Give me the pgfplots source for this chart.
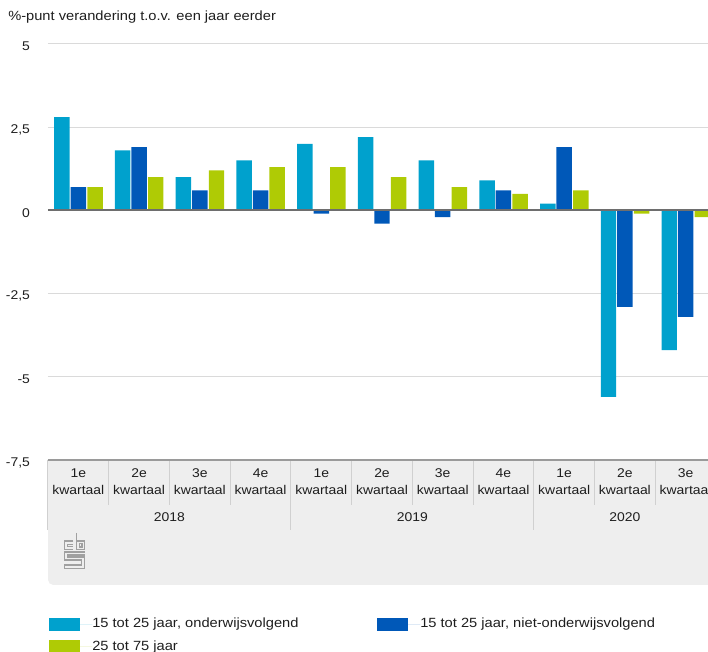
\documentclass[border=0pt]{standalone}
\usepackage{fontspec}
\setmainfont{Liberation Sans}[FakeStretch=1.1]
\usepackage{pgfplots}
\pgfplotsset{compat=1.18}
\definecolor{cLight}{HTML}{00A1CD}
\definecolor{cDark}{HTML}{0058B8}
\definecolor{cGreen}{HTML}{AFCB05}
\definecolor{gridc}{HTML}{DADADA}
\definecolor{zeroc}{HTML}{6E6E6E}
\definecolor{basec}{HTML}{9A9A9A}
\definecolor{boxc}{HTML}{EEEEEE}
\definecolor{sepc}{HTML}{D0D0D0}
\definecolor{logoc}{HTML}{A0A0A0}
\definecolor{txt}{HTML}{1E1E1E}
\pgfplotsset{mylegend/.style={legend image code/.code={%
  \fill[##1,/tikz/.cd] (0pt,-4.75pt) rectangle (23.25pt,5pt);
  \path (0pt,0pt) -- (32.25pt,0pt);}}}
\begin{document}
\begin{tikzpicture}
\begin{scope}[x=0.75pt,y=-0.75pt,shift={(-36pt,345pt)}]
  \fill[boxc,rounded corners=4pt] (48,460) rectangle (730,585);
  \fill[boxc] (48,460) rectangle (730,500);
  \node[anchor=base west,inner sep=0pt,text=txt,font=\fontsize{10}{12}\selectfont] at (8,21) {\%-punt verandering t.o.v. een jaar eerder};
  % cbs logo
  \begin{scope}[logoc,line width=0.9pt]
    \draw (73,541) -- (64.5,541) -- (64.5,549.5) -- (73,549.5);
    \draw (73,544.5) -- (67.5,544.5) -- (67.5,546.5) -- (73,546.5);
    \draw (76.5,533) -- (76.5,549.5) -- (84.5,549.5) -- (84.5,541) -- (76.5,541);
    \draw (79.5,543.5) rectangle (82,547);
    \draw (84.5,552) -- (64.5,552) -- (64.5,560) -- (81.5,560) -- (81.5,565) -- (64.5,565) -- (64.5,568.5) -- (84.5,568.5) -- (84.5,557) -- (67.5,557) -- (67.5,555) -- (84.5,555);
  \end{scope}
\end{scope}
\begin{axis}[
  at={(0pt,0pt)}, anchor=south west,
  scale only axis, width=501pt, height=312pt,
  xmin=-0.5, xmax=10.5, ymin=-7.5, ymax=5,
  clip=false,
  axis line style={draw=none},
  major tick length=0pt,
  ytick={-7.5,-5,-2.5,0,2.5,5},
  yticklabels={{-7,5},{-5},{-2,5},{0},{2,5},{5}},
  yticklabel style={font=\fontsize{9.5}{11}\selectfont, text=txt, anchor=east, xshift=-10pt, yshift=-2pt},
  xtick={0,...,10},
  xticklabels={{1e\\kwartaal},{2e\\kwartaal},{3e\\kwartaal},{4e\\kwartaal},{1e\\kwartaal},{2e\\kwartaal},{3e\\kwartaal},{4e\\kwartaal},{1e\\kwartaal},{2e\\kwartaal},{3e\\kwartaal}},
  xticklabel style={font=\fontsize{9.5}{12.75}\selectfont, text=txt, align=center, anchor=north, yshift=-3pt},
  ymajorgrids, grid style={gridc, line width=0.75pt},
  ybar, bar width=11.6pt,
  legend columns=2,
  legend style={at={(0.0015,-0.3786)}, anchor=north west, draw=none, fill=none, inner sep=0pt,
    row sep=6.9pt, font=\fontsize{10}{12}\selectfont, text=txt,
    nodes={inner sep=0pt, text height=7.5pt, text depth=2.5pt}},
  legend cell align=left,
]
\addplot[fill=cLight, draw=none, bar shift=-12.3pt, mylegend] coordinates {
  (0,2.8) (1,1.8) (2,1.0) (3,1.5) (4,2.0) (5,2.2) (6,1.5) (7,0.9) (8,0.2) (9,-5.6) (10,-4.2)};
\addlegendentry{\makebox[213.75pt][l]{15 tot 25 jaar, onderwijsvolgend}}
\addplot[fill=cDark, draw=none, bar shift=0pt, mylegend] coordinates {
  (0,0.7) (1,1.9) (2,0.6) (3,0.6) (4,-0.1) (5,-0.4) (6,-0.2) (7,0.6) (8,1.9) (9,-2.9) (10,-3.2)};
\addlegendentry{15 tot 25 jaar, niet-onderwijsvolgend}
\addplot[fill=cGreen, draw=none, bar shift=12.5pt, mylegend] coordinates {
  (0,0.7) (1,1.0) (2,1.2) (3,1.3) (4,1.3) (5,1.0) (6,0.7) (7,0.5) (8,0.6) (9,-0.1) (10,-0.2)};
\addlegendentry{25 tot 75 jaar}
\draw[zeroc, line width=1.5pt] (axis cs:-0.5,0) -- (axis cs:10.5,0);
\pgfplotsinvokeforeach{0.5,1.5,2.5,4.5,5.5,6.5,8.5,9.5}{
  \draw[sepc, line width=0.75pt] (axis cs:#1,-7.5) -- (axis cs:#1,-8.85);
}
\pgfplotsinvokeforeach{-0.5,3.5,7.5}{
  \draw[sepc, line width=0.75pt] (axis cs:#1,-7.5) -- (axis cs:#1,-9.6);
}
\draw[basec, line width=1.5pt] (axis cs:-0.5,-7.5) -- (axis cs:10.5,-7.5);
\node[font=\fontsize{9.5}{11}\selectfont, text=txt] at (axis cs:1.5,-9.21) {2018};
\node[font=\fontsize{9.5}{11}\selectfont, text=txt] at (axis cs:5.5,-9.21) {2019};
\node[font=\fontsize{9.5}{11}\selectfont, text=txt] at (axis cs:9,-9.21) {2020};
\end{axis}
\pgfresetboundingbox
\begin{scope}[x=0.75pt,y=-0.75pt,shift={(-36pt,345pt)}]
  \path[use as bounding box] (0,0) rectangle (708,652);
\end{scope}
\end{tikzpicture}
\end{document}
